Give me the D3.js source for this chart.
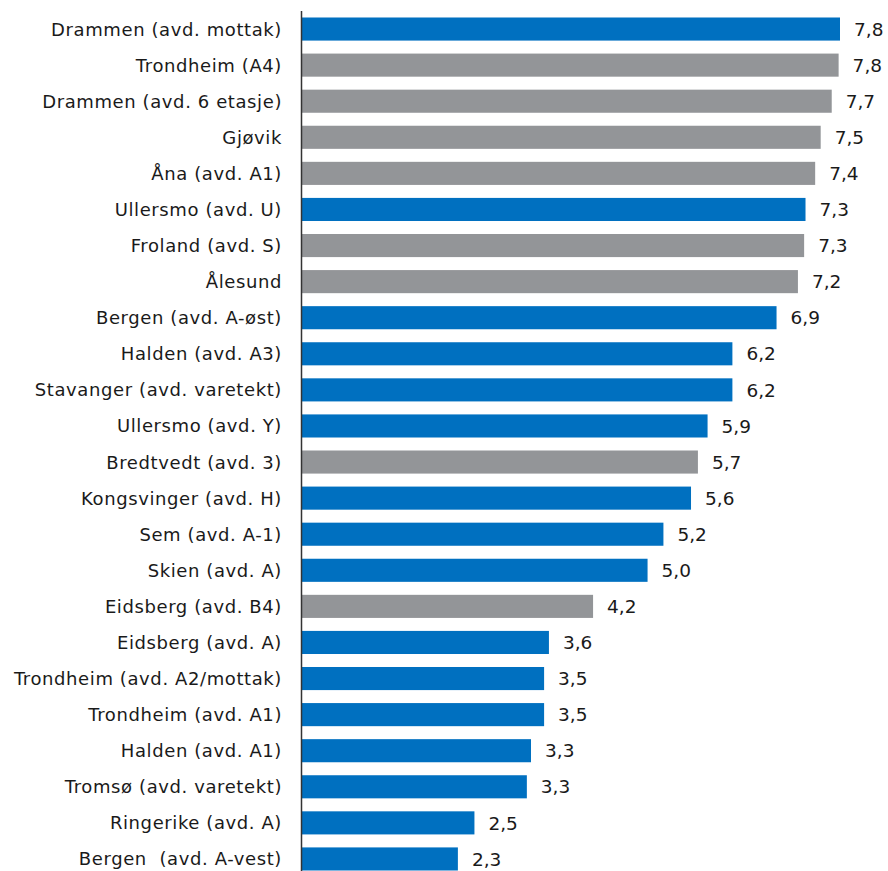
<!DOCTYPE html>
<html><head><meta charset="utf-8">
<script src="https://cdn.jsdelivr.net/npm/d3@7"></script>
<style>html,body{margin:0;padding:0;background:#fff}</style>
</head><body>
<svg id="chart" width="888" height="871"></svg>
<script>
const categories = ["Drammen (avd. mottak)","Trondheim (A4)","Drammen (avd. 6 etasje)","Gjøvik","Åna (avd. A1)","Ullersmo (avd. U)","Froland (avd. S)","Ålesund","Bergen (avd. A-øst)","Halden (avd. A3)","Stavanger (avd. varetekt)","Ullersmo (avd. Y)","Bredtvedt (avd. 3)","Kongsvinger (avd. H)","Sem (avd. A-1)","Skien (avd. A)","Eidsberg (avd. B4)","Eidsberg (avd. A)","Trondheim (avd. A2/mottak)","Trondheim (avd. A1)","Halden (avd. A1)","Tromsø (avd. varetekt)","Ringerike (avd. A)","Bergen  (avd. A-vest)"];
const values = [7.80,7.78,7.68,7.52,7.44,7.30,7.28,7.19,6.88,6.24,6.24,5.88,5.74,5.64,5.24,5.01,4.22,3.58,3.51,3.51,3.32,3.26,2.50,2.26];
const valueLabels = ["7,8","7,8","7,7","7,5","7,4","7,3","7,3","7,2","6,9","6,2","6,2","5,9","5,7","5,6","5,2","5,0","4,2","3,6","3,5","3,5","3,3","3,3","2,5","2,3"];
const groups = ["b","g","g","g","g","b","g","g","b","b","b","b","g","b","b","b","g","b","b","b","b","b","b","b"];
const colors = {b:"#0070C0", g:"#939598"};

const svg = d3.select("#chart");
const x0 = 302;
const x = d3.scaleLinear().domain([0, 7.8]).range([x0, 840]);
const y = d3.scaleBand().domain(categories).range([11, 877]).paddingInner(0.36).paddingOuter(0.18);

const font = "'DejaVu Sans', sans-serif";
svg.selectAll("rect.bar").data(categories).enter().append("rect")
  .attr("x", x0).attr("y", d => y(d))
  .attr("width", (d,i) => x(values[i]) - x0)
  .attr("height", y.bandwidth())
  .attr("fill", (d,i) => colors[groups[i]]);

svg.selectAll("text.cat").data(categories).enter().append("text")
  .attr("x", x0 - 20).attr("y", d => y(d) + y.bandwidth()/2)
  .attr("dy", "0.36em").attr("text-anchor", "end")
  .attr("font-family", font).attr("font-size", 18).attr("letter-spacing", "0.6px")
  .attr("fill", "#1a1a1a")
  .style("white-space","pre")
  .text(d => d);

svg.selectAll("text.val").data(categories).enter().append("text")
  .attr("x", (d,i) => x(values[i]) + 14).attr("y", d => y(d) + y.bandwidth()/2)
  .attr("dy", "0.36em").attr("text-anchor", "start")
  .attr("font-family", font).attr("font-size", 18.5).attr("fill", "#1a1a1a")
  .text((d,i) => valueLabels[i]);

svg.append("line").attr("x1", x0 - 0.5).attr("x2", x0 - 0.5).attr("y1", 11).attr("y2", 871)
  .attr("stroke", "#333").attr("stroke-width", 1.5);
</script>
</body></html>
